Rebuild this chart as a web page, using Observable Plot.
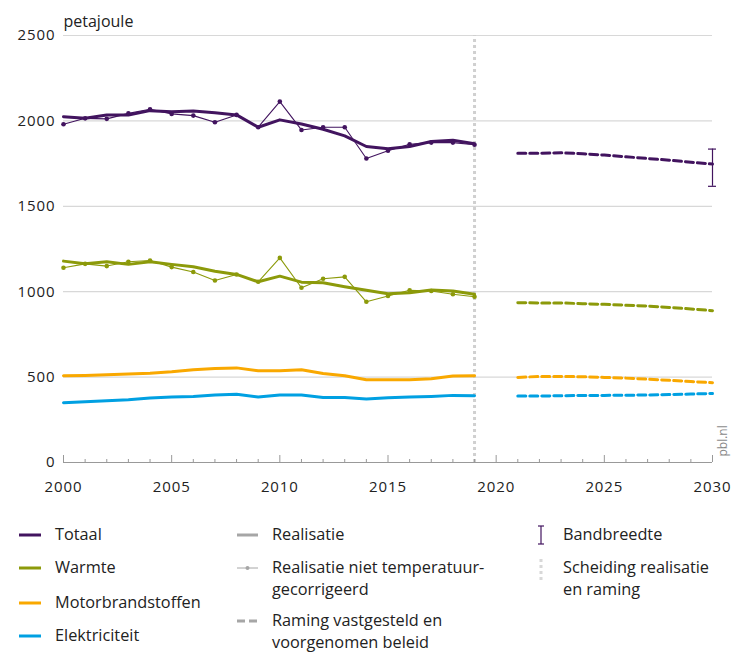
<!DOCTYPE html>
<html>
<head>
<meta charset="utf-8">
<script src="https://cdn.jsdelivr.net/npm/d3@7"></script>
<script src="https://cdn.jsdelivr.net/npm/@observablehq/plot@0.6"></script>
<style>
  body { margin: 0; background: #fff; font-family: "Open Sans", sans-serif; }
  #wrap { position: relative; width: 743px; height: 653px; }
  #legend { position: absolute; left: 0; top: 0; width: 743px; height: 653px; pointer-events: none; }
  .item { position: absolute; font-size: 16.3px; color: #222; line-height: 22px; white-space: nowrap; }
  .sw { position: absolute; }
  svg g[aria-label="x-axis tick label"] text, svg g[aria-label="y-axis tick label"] text { letter-spacing: 0.9px; }
</style>
</head>
<body>
<div id="wrap">
  <div id="chart"></div>
  <div id="legend"></div>
</div>
<script>
const years = d3.range(2000, 2020);
const totaalCorr = [2025,2015,2035,2035,2060,2054,2058,2048,2035,1963,2006,1982,1951,1912,1850,1837,1850,1879,1887,1866];
const totaalRaw  = [1980,2015,2012,2044,2068,2041,2031,1992,2035,1963,2113,1947,1963,1963,1780,1825,1863,1873,1873,1860];
const warmteCorr = [1179,1163,1175,1160,1175,1160,1146,1120,1101,1058,1091,1056,1052,1029,1008,988,994,1010,1004,985];
const warmteRaw  = [1140,1163,1150,1175,1183,1144,1115,1066,1101,1058,1198,1023,1076,1087,941,975,1008,1004,985,970];
const motor      = [508,510,514,518,523,531,543,550,554,537,537,543,521,508,484,484,484,490,506,508];
const elek       = [350,356,362,368,378,383,387,395,399,383,395,395,381,381,372,379,383,387,393,391];

const projYears   = d3.range(2021, 2031);
const totaalProj  = [1810,1810,1813,1808,1800,1790,1780,1770,1758,1747];
const warmteProj  = [936,934,934,930,926,921,916,908,899,889];
const motorProj   = [498,504,504,502,498,494,488,481,474,467];
const elekProj    = [389,389,391,392,393,394,395,398,401,404];

const bandYear = 2030;
const bandLow = 1617, bandHigh = 1835;
const separationYear = 2019;

const yTicks = [0, 500, 1000, 1500, 2000, 2500];
const xTicks = [2000, 2005, 2010, 2015, 2020, 2025, 2030];
const allYears = d3.range(2000, 2031);

const colors = {Totaal: "#42145f", Warmte: "#8c9a0a", Motorbrandstoffen: "#f9a800", Elektriciteit: "#00a0e2"};

const series = [
  {name: "Totaal", corr: totaalCorr, raw: totaalRaw, proj: totaalProj},
  {name: "Warmte", corr: warmteCorr, raw: warmteRaw, proj: warmteProj},
  {name: "Motorbrandstoffen", corr: motor, raw: null, proj: motorProj},
  {name: "Elektriciteit", corr: elek, raw: null, proj: elekProj}
];

const realRows = [], rawRows = [], projRows = [];
for (const s of series) {
  years.forEach((y, i) => realRows.push({year: y, value: s.corr[i], name: s.name}));
  if (s.raw) years.forEach((y, i) => rawRows.push({year: y, value: s.raw[i], name: s.name}));
  projYears.forEach((y, i) => projRows.push({year: y, value: s.proj[i], name: s.name}));
}

const plot = Plot.plot({
  width: 743,
  height: 500,
  marginLeft: 63,
  marginRight: 31,
  marginTop: 35,
  marginBottom: 38,
  style: {fontFamily: "Open Sans, sans-serif", fontSize: "15px", color: "#222", background: "#fff"},
  x: {domain: [2000, 2030]},
  y: {domain: [0, 2500]},
  color: {domain: Object.keys(colors), range: Object.values(colors)},
  marks: [
    Plot.ruleY(yTicks.filter(d => d > 0), {stroke: "#d8d8d8", strokeWidth: 1.2}),
    Plot.ruleX([separationYear], {y1: 0, y2: 2500, stroke: "#d0d0d0", strokeWidth: 3, strokeDasharray: "3,3"}),
    Plot.ruleY([0], {stroke: "#999", strokeWidth: 1}),
    Plot.ruleX(allYears.filter(d => d % 5 !== 0), {y1: 0, y2: 0, insetTop: -3, stroke: "#999"}),
    Plot.ruleX(xTicks, {y1: 0, y2: 0, insetTop: -7, stroke: "#999"}),
    Plot.axisX({ticks: xTicks, tickFormat: d => String(d), tickSize: 0, tickPadding: 19, label: null, fontSize: 15}),
    Plot.axisY({ticks: yTicks, tickFormat: d => String(d), tickSize: 0, tickPadding: 8, label: null, fontSize: 15}),
    Plot.text(["petajoule"], {frameAnchor: "top-left", dy: -20, textAnchor: "start", fontSize: 16, fill: "#222"}),
    Plot.text(["pbl.nl"], {frameAnchor: "bottom-right", dx: 14, dy: -6, rotate: -90, textAnchor: "start", fontSize: 12, fill: "#888"}),
    Plot.line(rawRows, {x: "year", y: "value", z: "name", stroke: "name", strokeWidth: 1.1}),
    Plot.dot(rawRows, {x: "year", y: "value", fill: "name", r: 2.3}),
    Plot.line(realRows, {x: "year", y: "value", z: "name", stroke: "name", strokeWidth: 3}),
    Plot.line(projRows, {x: "year", y: "value", z: "name", stroke: "name", strokeWidth: 3, strokeDasharray: "8,4"}),
    Plot.ruleX([bandYear], {y1: bandLow, y2: bandHigh, stroke: colors.Totaal, strokeWidth: 1.2}),
    Plot.ruleY([bandLow, bandHigh], {x1: bandYear, x2: bandYear, insetLeft: -4, insetRight: -4, stroke: colors.Totaal, strokeWidth: 1.2})
  ]
});
document.getElementById("chart").appendChild(plot);

// Legend
const legend = document.getElementById("legend");
function addText(x, y, html) {
  const d = document.createElement("div");
  d.className = "item";
  d.style.left = x + "px";
  d.style.top = (y - 12) + "px";
  d.innerHTML = html;
  legend.appendChild(d);
}
function addSvg(x, y, w, h, inner) {
  const d = document.createElement("div");
  d.className = "sw";
  d.style.left = x + "px";
  d.style.top = (y - h / 2) + "px";
  d.innerHTML = `<svg width="${w}" height="${h}" style="display:block">${inner}</svg>`;
  legend.appendChild(d);
}
const col1 = [["Totaal", 535], ["Warmte", 568], ["Motorbrandstoffen", 603], ["Elektriciteit", 636]];
for (const [name, y] of col1) {
  addSvg(19, y, 24, 6, `<line x1="0" x2="22" y1="3" y2="3" stroke="${colors[name]}" stroke-width="3"/>`);
  addText(55, y, name);
}
addSvg(237, 535, 24, 6, `<line x1="0" x2="21" y1="3" y2="3" stroke="#a6a6a6" stroke-width="3"/>`);
addText(272, 535, "Realisatie");
addSvg(237, 568, 24, 8, `<line x1="0" x2="21" y1="4" y2="4" stroke="#a6a6a6" stroke-width="1"/><circle cx="10.5" cy="4" r="2" fill="#a6a6a6"/>`);
addText(272, 568, "Realisatie niet temperatuur-<br>gecorrigeerd");
addSvg(237, 621, 24, 6, `<line x1="0" x2="21" y1="3" y2="3" stroke="#a6a6a6" stroke-width="3" stroke-dasharray="8,4"/>`);
addText(272, 621, "Raming vastgesteld en<br>voorgenomen beleid");
addSvg(536, 535, 10, 22, `<line x1="5" x2="5" y1="2" y2="20" stroke="${colors.Totaal}" stroke-width="1.2"/><line x1="2" x2="8" y1="2" y2="2" stroke="${colors.Totaal}" stroke-width="1.2"/><line x1="2" x2="8" y1="20" y2="20" stroke="${colors.Totaal}" stroke-width="1.2"/>`);
addText(563, 535, "Bandbreedte");
addSvg(536, 570, 10, 24, `<line x1="5" x2="5" y1="1" y2="23" stroke="#d8d8d8" stroke-width="3" stroke-dasharray="3,3"/>`);
addText(563, 568, "Scheiding realisatie<br>en raming");
</script>
</body>
</html>
